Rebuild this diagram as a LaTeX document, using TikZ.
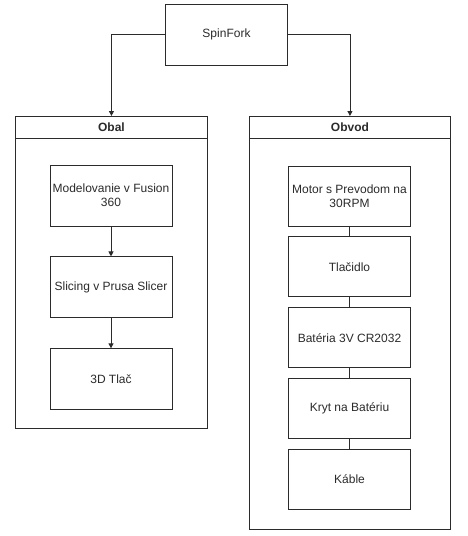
\documentclass[tikz,border=0pt]{standalone}
\usepackage{fontspec}
\setmainfont{Liberation Sans}
\usetikzlibrary{positioning,arrows.meta,calc}
\usepackage{xcolor}
\definecolor{Ink}{HTML}{2B2B2B}
\tikzset{
  block/.style={draw=Ink, line width=0.9pt, fill=white, align=center,
                minimum width=122pt, minimum height=61pt, inner sep=2pt,
                text=Ink, font=\fontsize{12}{14}\selectfont},
  part/.style={block, minimum height=60pt},
  frame/.style={draw=Ink, line width=0.9pt, anchor=north west, inner sep=0pt},
  head/.style={frame, minimum height=22pt, text=Ink, font=\fontsize{12}{14}\selectfont\bfseries},
  flow/.style={-{Triangle[length=5pt,width=5pt]}, line width=0.9pt, Ink},
  link/.style={line width=0.9pt, Ink},
}
\begin{document}
\begin{tikzpicture}[x=1pt, y=1pt]
  \useasboundingbox (0,0) rectangle (468,-536);
  \node[block] (spin) at (226.5,-34.5) {SpinFork};
  % left column
  \node[frame, minimum width=192pt, minimum height=312pt] (obalbox) at (15,-116) {};
  \node[head, minimum width=192pt] (obal) at (15,-116) {Obal};
  \node[block] (model) at (111,-195.5) {Modelovanie v Fusion\\360};
  \node[block, below=30pt of model] (slice) {Slicing v Prusa Slicer};
  \node[block, below=30pt of slice] (print) {3D Tla\v{c}};
  % right column
  \node[frame, minimum width=201pt, minimum height=413pt] (obvodbox) at (249,-116) {};
  \node[head, minimum width=201pt] (obvod) at (249,-116) {Obvod};
  \node[part] (motor) at (349.5,-196) {Motor s Prevodom na\\30RPM};
  \node[part, below=10pt of motor] (button) {Tla\v{c}idlo};
  \node[part, below=10pt of button] (battery) {Bat\'eria 3V CR2032};
  \node[part, below=10pt of battery] (cover) {Kryt na Bat\'eriu};
  \node[part, below=10pt of cover] (cables) {K\'able};
  \draw[flow] (spin.west) -| (obal.north);
  \draw[flow] (spin.east) -| (obvod.north);
  \draw[flow] (model) -- (slice);
  \draw[flow] (slice) -- (print);
  \draw[link] (motor) -- (button);
  \draw[link] (button) -- (battery);
  \draw[link] (battery) -- (cover);
  \draw[link] (cover) -- (cables);
\end{tikzpicture}
\end{document}
